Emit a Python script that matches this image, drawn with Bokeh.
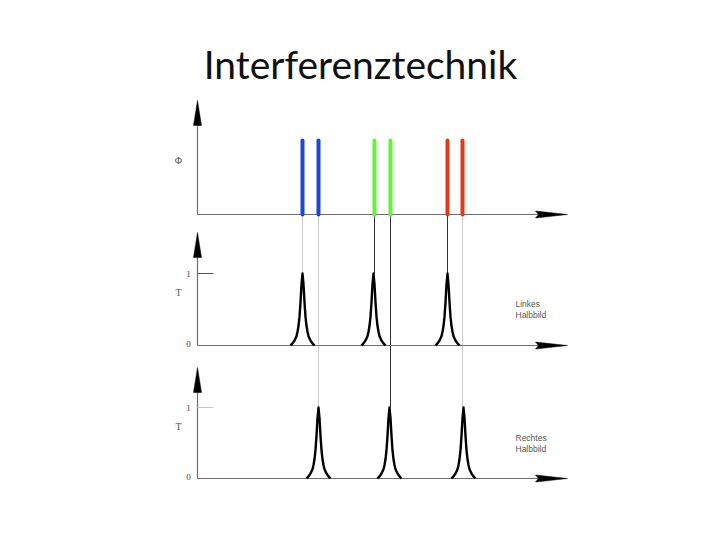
import numpy as np
from bokeh.plotting import figure
from bokeh.models import Range1d
from bokeh.embed import file_html
from bokeh.resources import INLINE
from bokeh.core.properties import value

# ---------------- data ----------------
title_text = "Interferenztechnik"
spectral_lines_nm = [442, 458, 514, 530, 587, 602]
spectral_intensity = [1.0, 1.0, 1.0, 1.0, 1.0, 1.0]
line_colors = ["#1f45d8", "#1f45d8", "#6af03a", "#6af03a", "#e03a1c", "#e03a1c"]

left_peaks_nm = [442, 513, 587]
right_peaks_nm = [458, 529, 603]
peak_T = [1.0, 1.0, 1.0]

profile_offset = [-12, -10, -8, -6, -5, -4, -3, -2, -1, 0, 1, 2, 3, 4, 5, 6, 8, 10, 12]
profile_T = [0.0, 0.03, 0.07, 0.13, 0.19, 0.27, 0.4, 0.6, 0.85, 1.0,
             0.85, 0.6, 0.4, 0.27, 0.19, 0.13, 0.07, 0.03, 0.0]

# connectors: which spectral line goes to which panel, and its colour
connector_target = ["mid", "bot", "mid", "bot", "mid", "bot"]
connector_colors = ["#cccccc", "#cccccc", "#333333", "#333333", "#333333", "#cccccc"]

axis_start_nm = 337
axis_end_nm = 707
panel_texts = {"mid": ["Linkes", "Halbbild"], "bot": ["Rechtes", "Halbbild"]}
y_labels = {"top": "\u03a6", "mid": "T", "bot": "T"}

# ---------------- layout ----------------
W, H = 704, 524
panels = {
    "top": dict(base=318, unit=74, top=432),
    "mid": dict(base=187, unit=72, top=300),
    "bot": dict(base=54, unit=71, top=165),
}
tick_colors = {"mid": "#555555", "bot": "#c8c8c8"}

p = figure(width=W, height=H, x_range=Range1d(140, 140 + W), y_range=Range1d(8, 8 + H),
           x_axis_type=None, y_axis_type=None, toolbar_location=None,
           output_backend="svg", min_border=0, outline_line_color=None)
p.background_fill_color = "white"

# connectors
top_base = panels["top"]["base"]
for x, tgt, c in zip(spectral_lines_nm, connector_target, connector_colors):
    pk = panels[tgt]
    p.segment(x0=[x], y0=[top_base], x1=[x], y1=[pk["base"] + pk["unit"]],
              line_color=c, line_width=1)

# axes with arrowheads
axis_color = "#6e6e6e"
for name, pk in panels.items():
    b = pk["base"]
    p.segment(x0=[axis_start_nm], y0=[b], x1=[axis_end_nm - 20], y1=[b],
              line_color=axis_color, line_width=1.2)
    p.segment(x0=[axis_start_nm], y0=[b], x1=[axis_start_nm], y1=[pk["top"] - 15],
              line_color=axis_color, line_width=1.2)
    # vertical arrowhead
    p.patch(x=[axis_start_nm - 4, axis_start_nm, axis_start_nm + 4],
            y=[pk["top"] - 25, pk["top"], pk["top"] - 25],
            fill_color="black", line_color="black", line_width=0.5)
    # horizontal arrowhead
    p.patch(x=[axis_end_nm - 32, axis_end_nm, axis_end_nm - 32, axis_end_nm - 29],
            y=[b + 3.5, b, b - 3.5, b],
            fill_color="black", line_color="black", line_width=0.5)
    # y label
    p.text(x=[axis_start_nm - 19], y=[b + pk["unit"] * 0.73],
           text=[y_labels[name]], text_font=value("Liberation Serif"), text_font_size="10px",
           text_color="#555555", text_align="center", text_baseline="middle")

# ticks 0/1 on T panels
for name in ["mid", "bot"]:
    pk = panels[name]
    b, u = pk["base"], pk["unit"]
    p.segment(x0=[axis_start_nm], y0=[b + u], x1=[axis_start_nm + 16], y1=[b + u],
              line_color=tick_colors[name], line_width=1.2)
    p.text(x=[axis_start_nm - 9, axis_start_nm - 9], y=[b + u, b + 2], text=["1", "0"],
           text_font=value("Liberation Serif"), text_font_size="9px",
           text_color="#444444", text_align="center", text_baseline="middle")
    p.text(x=[axis_start_nm + 318, axis_start_nm + 318],
           y=[b + u * 0.57, b + u * 0.42], text=panel_texts[name],
           text_font=value("Liberation Sans"), text_font_size="8.5px",
           text_color="#555555", text_align="left", text_baseline="middle")

# spectral lines
p.segment(x0=spectral_lines_nm, y0=[top_base] * len(spectral_lines_nm),
          x1=spectral_lines_nm,
          y1=[top_base + panels["top"]["unit"] * v for v in spectral_intensity],
          line_color=line_colors, line_width=4, line_cap="round")

# transmission peaks
off = np.array(profile_offset, dtype=float)
prof = np.array(profile_T, dtype=float)
for name, peaks in [("mid", left_peaks_nm), ("bot", right_peaks_nm)]:
    pk = panels[name]
    xs = [list(x0 + off) for x0 in peaks]
    ys = [list(pk["base"] + pk["unit"] * t * prof) for t in peak_T]
    p.multi_line(xs=xs, ys=ys, line_color="black", line_width=2.4, line_join="round")

# title
p.text(x=[500], y=[469], text=[title_text], text_font=value("Lato"),
       text_font_size="39px", text_color="#111111", text_align="center",
       text_baseline="alphabetic")

open("out.html", "w").write(file_html(p, INLINE))
